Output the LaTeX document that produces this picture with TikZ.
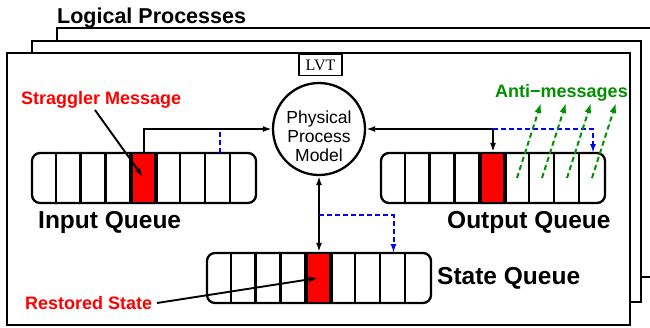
\documentclass[tikz,border=0pt]{standalone}
\usepackage{fontspec}
\setmainfont{Liberation Sans}
\newfontfamily\lvtfont{Liberation Serif}
\usetikzlibrary{arrows.meta,calc}

\definecolor{stragred}{RGB}{255,0,0}
\definecolor{rollblue}{RGB}{0,0,255}
\definecolor{antigreen}{RGB}{0,144,0}

\tikzset{
  frame/.style={draw, line width=2.3pt, fill=white},
  queue/.style={draw, line width=2.3pt, fill=white, rounded corners=8pt,
    minimum width=224pt, minimum height=50pt, inner sep=0pt},
  redcell/.style={draw, line width=2.3pt, fill=stragred,
    minimum width=24.9pt, minimum height=50pt, inner sep=0pt},
  divider/.style={line width=2.3pt},
  head/.tip={Latex[length=9pt,width=6pt]},
  tip/.style={-head},
  conn/.style={line width=1.9pt},
  rollback/.style={line width=2pt, draw=rollblue, dash pattern=on 5pt off 3pt, -head},
  anti/.style={line width=2pt, draw=antigreen, fill=antigreen, dash pattern=on 5pt off 3.5pt,
    -{Latex[length=10pt,width=7pt]}},
  qlabel/.style={anchor=base west, inner sep=0pt, font=\bfseries\fontsize{24.5}{28}\selectfont},
  note/.style={anchor=base west, inner sep=0pt, font=\bfseries\fontsize{18}{21}\selectfont},
}

\begin{document}
\begin{tikzpicture}[x=1pt, y=-1pt]
  \useasboundingbox (0,0) rectangle (650,327);
  \clip (0,0) rectangle (650,327);

  % stacked logical-process frames
  \draw[frame] (57,28) rectangle (664,277);
  \draw[frame] (32,41) rectangle (641,302);
  \draw[frame] (7,53) rectangle (630,325);
  \node[anchor=base west, inner sep=0pt, font=\bfseries\fontsize{21.5}{24}\selectfont]
    (title) at (57,23) {Logical Processes};

  % local virtual time and the physical process model
  \node[draw, line width=1.8pt, minimum width=43pt, minimum height=21pt, inner sep=0pt,
    font=\lvtfont\fontsize{16}{16}\selectfont] (lvt) at (320.5,65) {LVT};
  \node[circle, draw, line width=2.3pt, minimum size=92pt, inner sep=0pt] (ppm) at (319,129) {};
  \node[align=center, inner sep=0pt, font=\fontsize{17.5}{19}\selectfont]
    (ppmtext) at (319,136.5) {Physical\\Process\\Model};

  % queues: nine cells each, the middle one highlighted
  \foreach \q/\cx/\cy in {iq/144/178, oq/493/178, sq/319/278}{
    \node[queue] (\q) at (\cx,\cy) {};
    \node[redcell] (\q red) at (\cx,\cy) {};
    \foreach \i in {1,...,8}
      \draw[divider] ($(\q.north west)+(\i*24.89,0)$) -- ++(0,50);
  }

  \node[qlabel] (iqlabel) at (38,228) {Input Queue};
  \node[qlabel] (oqlabel) at (447,228) {Output Queue};
  \node[qlabel] (sqlabel) at (437,284) {State Queue};

  % tap points in the queues
  \coordinate (iqtap) at (219.5,153);
  \coordinate (oqtap) at (593,153);
  \coordinate (sqtap) at (393.5,253);
  \coordinate (sqbranch) at (319,215);

  % message flow between queues and the model
  \draw[conn, tip] (iqred.north) |- (ppm.west);
  \draw[rollback, -] (iqtap) -- (iqtap |- ppm.west);
  \draw[conn, head-head] (ppm.east) -| (oqred.north);
  \draw[rollback] (oqred.north |- ppm.east) -| (oqtap);
  \draw[conn, head-head] (ppm.south) -- (sqred.north);
  \draw[rollback] (sqbranch) -| (sqtap);

  % anti-messages sent out of the output queue
  \foreach \k in {0,...,3}{
    \coordinate (afoot\k) at (517+25*\k,178);
    \coordinate (ahead\k) at (541+25*\k,103);
    \draw[anti] (afoot\k) -- (ahead\k);
  }
  \node[note, text=antigreen] (antilabel) at (495,97) {Anti−messages};

  % straggler and restored-state annotations
  \node[note, text=stragred] (straggler) at (21,104) {Straggler Message};
  \coordinate (stragfoot) at (95,110);
  \coordinate (stragtip) at (143,177);
  \draw[conn, tip] (stragfoot) -- (stragtip);

  \node[note, text=stragred] (restored) at (25,309) {Restored State};
  \coordinate (restfoot) at (157,303);
  \coordinate (resttip) at (318,278);
  \draw[conn, tip] (restfoot) -- (resttip);
\end{tikzpicture}
\end{document}
